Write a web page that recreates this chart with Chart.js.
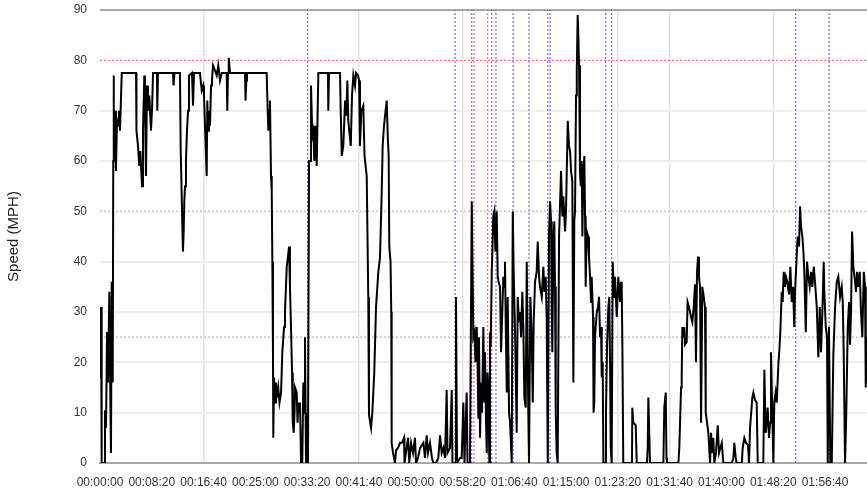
<!DOCTYPE html>
<html>
<head>
<meta charset="utf-8">
<script src="https://cdn.jsdelivr.net/npm/chart.js@4"></script>
<style>
  html, body { margin: 0; padding: 0; background: #fff; }
  #wrap { width: 867px; height: 490px; }
</style>
</head>
<body>
<div id="wrap"><canvas id="speedChart"></canvas></div>
<script>
// elapsed time in seconds
const seconds = [
  0,3,10,16,39,48,58,68,77,90,
  97,106,113,123,128,131,135,145,154,164,
  174,183,193,210,348,352,367,379,389,406,
  415,428,434,444,454,463,476,492,502,512,
  550,553,560,705,710,719,772,779,787,795,
  801,808,814,821,830,840,850,859,888,898,
  908,965,982,997,1004,1030,1036,1043,1052,1062,
  1072,1081,1091,1101,1127,1142,1159,1175,1223,1229,
  1236,1243,1255,1400,1405,1413,1419,1609,1617,1625,
  1632,1641,1651,1658,1664,1670,1673,1680,1690,1699,
  1709,1721,1733,1748,1760,1777,1786,1803,1815,1825,
  1834,1844,1854,1861,1870,1878,1883,1899,1907,1915,
  1924,1931,1941,1953,1963,1970,1979,1989,1999,2008,
  2011,2018,2028,2037,2050,2060,2069,2079,2092,2108,
  2201,2204,2211,2317,2324,2334,2349,2366,2378,2388,
  2397,2421,2433,2446,2462,2472,2491,2501,2510,2523,
  2542,2554,2575,2590,2597,2617,2629,2648,2665,2687,
  2703,2720,2729,2742,2752,2768,2778,2787,2793,2805,
  2812,2816,2829,2848,2858,2877,2897,2916,2935,2940,
  2961,2974,2986,3003,3022,3041,3051,3070,3090,3122,
  3138,3154,3167,3186,3205,3218,3244,3266,3283,3299,
  3315,3331,3347,3355,3379,3396,3403,3428,3437,3447,
  3476,3492,3508,3519,3540,3548,3572,3589,3596,3604,
  3616,3625,3637,3645,3653,3659,3669,3679,3688,3701,
  3709,3717,3727,3734,3741,3749,3759,3765,3772,3782,
  3788,3797,3807,3817,3830,3840,3848,3862,3872,3881,
  3894,3904,3910,3917,3927,3936,3949,3959,3975,3985,
  3994,4007,4023,4033,4045,4055,4065,4077,4087,4097,
  4110,4120,4129,4135,4142,4155,4168,4178,4187,4200,
  4216,4226,4239,4248,4265,4280,4290,4303,4313,4323,
  4335,4345,4355,4361,4367,4377,4386,4393,4400,4409,
  4419,4432,4451,4464,4473,4490,4499,4516,4528,4538,
  4548,4560,4570,4579,4586,4596,4603,4612,4618,4625,
  4634,4641,4651,4657,4666,4676,4683,4689,4699,4712,
  4721,4731,4741,4747,4760,4765,4772,4779,4796,4808,
  4818,4828,4837,4844,4853,4860,4876,4885,4895,4908,
  4917,4924,4931,4940,4950,4963,4972,4989,5004,5021,
  5030,5037,5043,5052,5136,5139,5149,5172,5182,5281,
  5288,5294,5303,5310,5439,5448,5462,5469,5474,5584,
  5593,5610,5616,5622,5632,5641,5648,5664,5673,5687,
  5706,5719,5732,5745,5754,5764,5774,5783,5793,5803,
  5815,5829,5841,5848,5858,5873,5890,5899,5912,5921,
  5931,5947,5964,5976,5989,6003,6018,6099,6115,6124,
  6138,6145,6196,6205,6221,6237,6256,6266,6276,6285,
  6298,6308,6324,6340,6350,6404,6414,6427,6437,6446,
  6459,6469,6478,6491,6501,6510,6523,6533,6542,6549,
  6559,6568,6582,6591,6601,6614,6623,6636,6652,6665,
  6678,6691,6703,6710,6726,6736,6749,6759,6768,6781,
  6791,6800,6814,6826,6839,6852,6865,6877,6891,6903,
  6920,6935,6949,6961,6974,6987,6993,7007,7019,7026,
  7038,7051,7065,7080,7097,7113,7128,7145,7161,7171,
  7180,7193,7205,7219,7232,7241,7251,7261,7273,7290,
  7299,7309,7321,7335,7347,7360,7374,7386,7393,7405
];

// speed in MPH at each of those times
const mph = [
  24,17,31,0,0,10.5,7,26,16,34,
  18,2,36,16,60,77,60,70,58,68,
  67,70,66,77.5,77.5,66,63,59,62,55,
  66,77,72,57,75,70,73,66,70,77.5,
  77.5,70,77.5,77.5,75,77.5,77.5,62,55,47,
  42,46,52,55,60,66,70,77,77.5,71,
  77.5,77.5,74,75,73,57,72,66,70,67,
  75,76,79,78.5,77,79,76,77.5,77.5,70,
  77.5,80.5,77.5,77.5,72,76,77.5,77.5,71.5,66,
  70,72,57,54,40,22,5,17,12,16,
  13,15,12,14,22,27,30,39,41,43,
  35,27,18,8,6,10,15,14,8,12,
  10,12,0,0,16,10,25,0,10,0,
  20,60,60,75,65,66,60,67,59,77.5,
  77.5,70,77.5,77.5,70,61,63,72,69,76,
  68,63,73,77,75,77.5,77,76,63,70,
  71,61,57,33,9.5,7,10,18,31,38,
  40.7,54,63,67,69,72,65,61,43,40,
  30,4,2,0,2.5,3,4,4,5,0,
  3,5,0,4,2,5,0,1,3,4,
  1,5.5,2,4,1,0,0,1,5.5,2,
  3,1,14.5,2,3,14.5,0,0,33,0,
  1,1,12,0,14,0,0,52,40,25,
  26,20,27,20,9,25,5,16,10,27,
  12,22,8,2,18,15,0,26,23,38,
  42,49,50,42,50,37,36,35,22,22,
  37,35,40,28,14,33,10,8,0,50,
  38,26,6,33,28,30,25,34,27,13,
  11,40,23,10,0,33,25,12,28,36,
  38,44,37,35,33,39,34,37,28,0,
  45,52,48,31,22,44,48,35,10,2,
  0,45,58,49,53,46,50,68,63,62,
  58,56,16,48,50,73,78,89,85,79,
  58,55,60,45,57,61,49,35,46,45,
  41,37,32,37,29,10,12,25,30,31,
  33,25,27,17,20,0,0,10,23,31,
  33,20,3,0,40,33,37,29,37,32,
  36,35,24,0,0,11,8,7.5,0,0,
  3,13,5.6,0,0,11,14,1,0,0,
  3,15,17,27,25,27,23.5,24,32,31,
  29,28,31,35.5,20,38,41,37,35,8,
  35,33,31,10,8.5,6,0,6,2,5,
  0,2,7.5,2,3,4,0,0,1,4,
  1,0,0,3,5,4,3.6,0,7,7,
  13,14,12.5,12,0,0,18.5,6,8,11,
  5,8,22,10,0,12,14,12,16,19.5,
  22.5,26,34,32,38,35,37,36,33.5,39,
  32,35,27,34,41,45,43,51,47,45,
  42,38,26,40,37,35,38,35,39,36,
  31,21,31,22,30,40,34,27,25,0,
  27,0,0,21.5,31,36,37,33,35,32,
  22,0,10,27,32,23.5,30,46,39,36,
  34,38,35,38,30,25,38,35,15,25
];

const xTicks = [0,500,1000,1500,2000,2500,3000,3500,4000,4500,5000,5500,6000,6500,7000];
const yTicks = [0,10,20,30,40,50,60,70,80,90];
const xMax = 7405;

// light vertical grid lines (only some of the ticks carry one)
const gridSecs = [1000, 2500, 3500, 5000, 5500, 6500];
// dotted event markers
const blueMarks = [2005, 3428, 3589, 3782, 3823, 3988, 4142, 4323, 4345, 4883, 4940, 6717, 7039];
const redMarks = [3611, 3743];
// dotted horizontal reference levels
const grayLevels = [25, 50];
const limitLevel = 80;

function hms(s) {
  const h = Math.floor(s / 3600);
  const m = Math.floor((s % 3600) / 60);
  const sec = s % 60;
  return [h, m, sec].map(n => String(n).padStart(2, '0')).join(':');
}

function refLine(points, color, width) {
  return {
    data: points,
    borderColor: color,
    borderWidth: width,
    borderDash: [2, 2],
    pointRadius: 0,
    tension: 0,
    order: 2
  };
}

const datasets = [{
  label: 'Speed',
  data: seconds.map((t, i) => ({ x: t, y: mph[i] })),
  borderColor: '#000',
  borderWidth: 2,
  pointRadius: 0,
  tension: 0,
  order: 0
}];

grayLevels.forEach(v => datasets.push(refLine([{ x: 0, y: v }, { x: xMax, y: v }], '#c4c4c4', 1.5)));
datasets.push(refLine([{ x: 0, y: limitLevel }, { x: xMax, y: limitLevel }], '#ff4d4d', 1));
blueMarks.forEach(t => datasets.push(refLine([{ x: t, y: 0 }, { x: t, y: 90 }], '#4a4aff', 1)));
redMarks.forEach(t => datasets.push(refLine([{ x: t, y: 0 }, { x: t, y: 90 }], '#ff4a4a', 1)));

Chart.defaults.font.family = '"Liberation Sans", Arial, sans-serif';

new Chart(document.getElementById('speedChart'), {
  type: 'line',
  data: { datasets },
  options: {
    responsive: true,
    maintainAspectRatio: false,
    animation: false,
    layout: { padding: { top: 10, right: 0, bottom: 0, left: 0 } },
    plugins: {
      legend: { display: false },
      tooltip: { enabled: false }
    },
    scales: {
      x: {
        type: 'linear',
        min: 0,
        max: xMax,
        afterBuildTicks: s => { s.ticks = xTicks.map(v => ({ value: v })); },
        afterFit: s => { s.height = 27; },
        ticks: {
          callback: v => hms(v),
          autoSkip: false,
          maxRotation: 0,
          padding: 12,
          color: '#333',
          font: { size: 12 }
        },
        grid: {
          drawTicks: false,
          color: c => (c.tick && gridSecs.includes(c.tick.value)) ? '#e6e3df' : 'rgba(0,0,0,0)',
          lineWidth: 1.5
        },
        border: { display: true, color: '#a8a8a8', width: 2 }
      },
      y: {
        min: 0,
        max: 90,
        afterBuildTicks: s => { s.ticks = yTicks.map(v => ({ value: v })); },
        afterFit: s => {
          s.width = 100;
          s.paddingTop = 0;
          s.paddingBottom = 0;
        },
        ticks: { padding: 13, color: '#333', font: { size: 12 } },
        grid: {
          drawTicks: false,
          color: c => {
            const v = c.tick ? c.tick.value : null;
            if (v === 90) return '#a8a8a8';
            if (v === 0 || v === 50 || v === 80) return 'rgba(0,0,0,0)';
            return '#ebebeb';
          },
          lineWidth: c => (c.tick && c.tick.value === 90) ? 2 : 1.8
        },
        border: { display: false },
        title: {
          display: true,
          text: 'Speed (MPH)',
          color: '#222',
          font: { size: 15 },
          padding: { top: 5, bottom: 0 }
        }
      }
    }
  }
});
</script>
</body>
</html>
